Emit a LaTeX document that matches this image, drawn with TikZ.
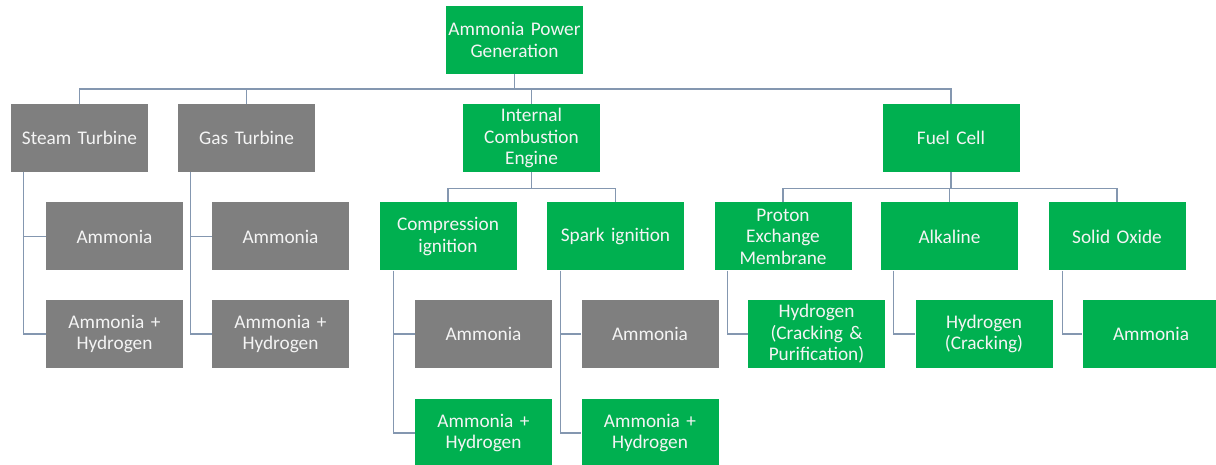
\documentclass[tikz,border=0pt]{standalone}
\usepackage{fontspec}
\setmainfont{Carlito}
\usepackage{tikz}
\usetikzlibrary{positioning}

\definecolor{boxgreen}{HTML}{00B050}
\definecolor{boxgray}{HTML}{7F7F7F}
\definecolor{linkcol}{HTML}{8497B0}
\definecolor{boxtext}{HTML}{F4F4F4}

\tikzset{
  box/.style={minimum width=137pt, minimum height=68pt, text width=135pt,
    align=center, inner sep=1pt, text=boxtext, font=\fontsize{19.3}{21.5}\selectfont},
  greenbox/.style={box, fill=boxgreen},
  graybox/.style={box, fill=boxgray},
  link/.style={draw=linkcol, line width=1.1pt}
}

\begin{document}
\begin{tikzpicture}[x=1pt,y=-1pt]
    \useasboundingbox (0,0) rectangle (1216,465);
    % top
    \node[greenbox] (root) at (514.5,40) {Ammonia Power\\Generation};
    % first level
    \node[graybox] (steam) at (79.5,138) {Steam Turbine};
    \node[graybox] (gas) at (246.5,138) {Gas Turbine};
    \node[greenbox] (ice) at (531.5,138) {Internal\\Combustion\\Engine};
    \node[greenbox] (fuel) at (951,138) {Fuel Cell};
    % turbines
    \node[graybox] (steamA) at (114.5,236.5) {Ammonia};
    \node[graybox] (steamAH) at (114.5,334) {Ammonia +\\Hydrogen};
    \node[graybox] (gasA) at (280.5,236.5) {Ammonia};
    \node[graybox] (gasAH) at (280.5,334) {Ammonia +\\Hydrogen};
    % engine
    \node[greenbox] (comp) at (448,236.5) {Compression\\ignition};
    \node[greenbox] (spark) at (615.5,236.5) {Spark ignition};
    \node[graybox] (compA) at (483.5,334) {Ammonia};
    \node[greenbox] (compAH) at (483.5,433) {Ammonia +\\Hydrogen};
    \node[graybox] (sparkA) at (650,334) {Ammonia};
    \node[greenbox] (sparkAH) at (650,433) {Ammonia +\\Hydrogen};
    % fuel cells
    \node[greenbox] (pem) at (783,236.5) {Proton\\Exchange\\Membrane};
    \node[greenbox] (alk) at (949.5,236.5) {Alkaline};
    \node[greenbox] (sofc) at (1117,236.5) {Solid Oxide};
    \node[greenbox] (pemH) at (816.5,334) {Hydrogen\\(Cracking \&\\Purification)};
    \node[greenbox] (alkH) at (984,334) {Hydrogen\\(Cracking)};
    \node[greenbox] (sofcA) at (1151,334) {Ammonia};

    % connectors
    \coordinate (bus) at (0,89);
    \draw[link] (root.south) -- (root.south |- bus);
    \draw[link] (steam.north) |- (fuel.north |- bus) -- (fuel.north);
    \draw[link] (gas.north) -- (gas.north |- bus);
    \draw[link] (ice.north) -- (ice.north |- bus);
    \draw[link] (ice.south) -- ++(0,16);
    \draw[link] (comp.north) -- ++(0,-14) -| (spark.north);
    \draw[link] (fuel.south) -- ++(0,16);
    \draw[link] (pem.north) -- ++(0,-14) -| (sofc.north);
    \draw[link] (alk.north) -- ++(0,-14);
    \draw[link] ([xshift=13pt]steam.south west) |- (steamAH.west);
    \draw[link] ([xshift=13pt]steam.south west |- steamA.west) -- (steamA.west);
    \draw[link] ([xshift=13pt]gas.south west) |- (gasAH.west);
    \draw[link] ([xshift=13pt]gas.south west |- gasA.west) -- (gasA.west);
    \draw[link] ([xshift=14pt]comp.south west) |- (compAH.west);
    \draw[link] ([xshift=14pt]comp.south west |- compA.west) -- (compA.west);
    \draw[link] ([xshift=14pt]spark.south west) |- (sparkAH.west);
    \draw[link] ([xshift=14pt]spark.south west |- sparkA.west) -- (sparkA.west);
    \draw[link] ([xshift=13pt]pem.south west) |- (pemH.west);
    \draw[link] ([xshift=13pt]alk.south west) |- (alkH.west);
    \draw[link] ([xshift=14pt]sofc.south west) |- (sofcA.west);
\end{tikzpicture}
\end{document}
